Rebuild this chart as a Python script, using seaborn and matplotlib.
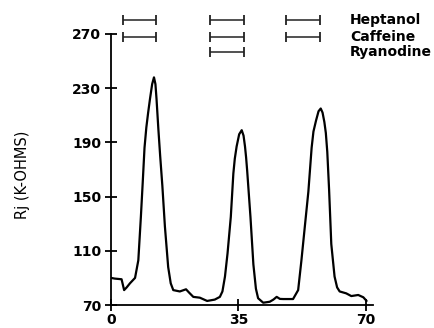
import matplotlib
matplotlib.use("Agg")
import matplotlib.pyplot as plt
import seaborn as sns
import pandas as pd

# ---- data ----
time = [0, 1, 2.9, 3.6, 4.3, 5.2, 6.6, 7.5, 8.2, 8.7, 9.2, 9.7, 10.2, 10.7, 11.3,
        11.8, 12.2, 12.5, 13.0, 13.5, 14.1, 14.8, 15.7, 16.4, 17.1, 18.9, 20.6,
        21.5, 22.6, 24.4, 26.4, 28.5, 29.9, 30.6, 31.3, 32.0, 32.9, 33.6, 34.0,
        34.5, 35.2, 35.9, 36.4, 36.8, 37.1, 37.4, 38.3, 39.1, 39.8, 40.4, 41.8,
        43.6, 44.6, 45.5, 46.4, 47.3, 50.0, 51.4, 52.3, 53.2, 54.2, 55.1, 55.6,
        56.3, 57.0, 57.6, 58.1, 58.6, 59.0, 59.4, 59.9, 60.5, 61.4, 62.1, 62.8,
        64.6, 66.0, 67.9, 69.3, 70.2]
rj = [90, 89.5, 89, 81, 83, 86, 90, 103, 135, 160, 186, 201, 212, 222, 233,
      238, 233, 222, 200, 180, 158, 128, 98, 86, 81, 80, 81.6,
      79, 76, 75.4, 73, 74, 76, 80, 91, 108, 135, 167, 178,
      187, 196, 199, 195, 187, 179, 169, 135, 100, 82, 75, 71.7,
      72.4, 74, 76, 74.5, 74.4, 74.4, 81, 103, 127, 153.5, 186, 198,
      206, 213, 215, 212, 205, 197, 183, 155, 115, 91, 83, 80,
      78.6, 76.6, 77.4, 75.7, 73]

treatments = ["Heptanol", "Caffeine", "Ryanodine"]
treat_level = [280, 267.5, 257]
# application intervals (start, end) for each treatment
heptanol_periods = [(3.2, 12.3), (27.2, 36.5), (48.0, 57.3)]
caffeine_periods = [(3.2, 12.3), (27.2, 36.5), (48.0, 57.3)]
ryanodine_periods = [(27.2, 36.5)]

x_ticks = [0, 35, 70]
y_ticks = [70, 110, 150, 190, 230, 270]
y_label = "Rj (K-OHMS)"

# ---- figure ----
sns.set_style("ticks")
plt.rcParams["font.family"] = ["DejaVu Sans"]
plt.rcParams["text.color"] = "black"

fig = plt.figure(figsize=(4.34, 3.28), dpi=100)
ax = fig.add_axes([0.2558, 0.0701, 0.604, 0.8263])

df = pd.DataFrame({"t": time, "rj": rj})
sns.lineplot(data=df, x="t", y="rj", ax=ax, color="black", linewidth=1.6,
             sort=False)

ax.set_xlim(0, 72)
ax.set_ylim(70, 270)
ax.set_xticks(x_ticks)
ax.set_yticks(y_ticks)
ax.set_xticklabels([str(v) for v in x_ticks], fontsize=10, fontweight="bold")
ax.set_yticklabels([str(v) for v in y_ticks], fontsize=10, fontweight="bold")
ax.tick_params(axis="both", direction="inout", length=8, width=1.3,
               colors="black", labelcolor="black", pad=3)
ax.tick_params(axis="x", pad=2)
ax.set_xlabel("")
ax.set_ylabel(y_label, fontsize=10.5, color="black")
ax.yaxis.set_label_coords(-0.31, 0.48)

for side in ["top", "right"]:
    ax.spines[side].set_visible(False)
for side in ["left", "bottom"]:
    ax.spines[side].set_linewidth(1.3)
    ax.spines[side].set_color("black")

all_periods = [heptanol_periods, caffeine_periods, ryanodine_periods]
for name, level, periods in zip(treatments, treat_level, all_periods):
    for (s, e) in periods:
        c = (s + e) / 2
        h = (e - s) / 2
        ax.errorbar([c], [level], xerr=[[h], [h]], fmt="none", ecolor="#222222",
                    elinewidth=1.1, capsize=3.5, capthick=1.3, clip_on=False)
    ax.text(65.6, level, name, fontsize=10, fontweight="bold", va="center",
            ha="left", clip_on=False, color="black")

fig.savefig("out.png", dpi=100)
